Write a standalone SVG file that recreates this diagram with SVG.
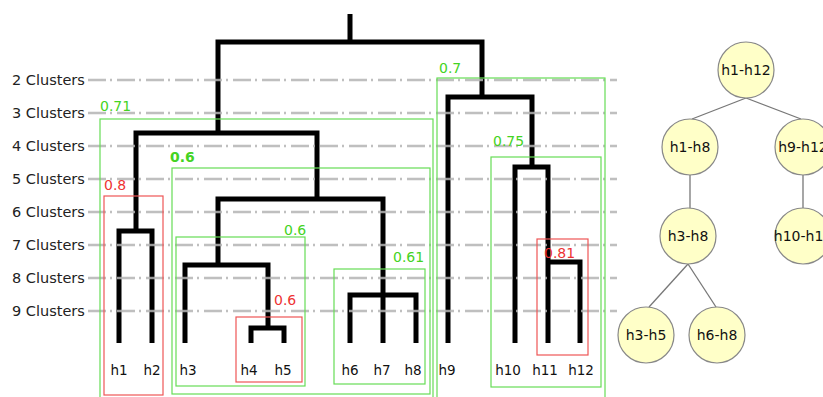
<svg xmlns="http://www.w3.org/2000/svg" width="823" height="397" viewBox="0 0 823 397">
<style>
.lbl{font-family:"DejaVu Sans",sans-serif;font-size:14.5px;fill:#222}
.leaf{font-family:"DejaVu Sans",sans-serif;font-size:13.5px;fill:#111;text-anchor:middle}
.g{font-family:"DejaVu Sans",sans-serif;font-size:14px;fill:#44d322}
.r{font-family:"DejaVu Sans",sans-serif;font-size:14px;fill:#ee3333}
.den{fill:none;stroke:#000;stroke-width:5;stroke-linejoin:miter}
.dash{stroke:#b4b4b4;stroke-width:2.5;stroke-dasharray:18 4 2 5;opacity:0.85}
.gb{fill:none;stroke:#66dd55;stroke-width:1.2}
.rb{fill:none;stroke:#ee5555;stroke-width:1.2}
.node circle{fill:#ffffc8;stroke:#888;stroke-width:1.2}
.node text{font-family:"DejaVu Sans",sans-serif;font-size:14px;fill:#111;text-anchor:middle}
.edge{stroke:#777;stroke-width:1.3}
</style>
<rect width="823" height="397" fill="#fff"/>
<g id="connectors">
<path class="den" d="M350 14V42M218 133V42H482V97"/>
<path class="den" d="M136 231V133H317V199"/>
<path class="den" d="M119 343V231H152V343"/>
<path class="den" d="M218 265V199H383V295"/>
<path class="den" d="M185 343V265H268V328"/>
<path class="den" d="M251 343V328H284V343"/>
<path class="den" d="M350 343V295H416V343M383 295V343"/>
<path class="den" d="M448 343V97H532V167"/>
<path class="den" d="M515 343V167H548V343"/>
<path class="den" d="M548 262H580V343"/>
<line class="edge" x1="746" y1="98" x2="692" y2="119"/>
<line class="edge" x1="746" y1="98" x2="801" y2="119"/>
<line class="edge" x1="690" y1="175" x2="690" y2="208"/>
<line class="edge" x1="803" y1="175" x2="803" y2="208"/>
<line class="edge" x1="688" y1="264" x2="649" y2="307"/>
<line class="edge" x1="688" y1="264" x2="716" y2="307"/>
</g>
<g id="levels">
<line class="dash" x1="88" y1="80" x2="617" y2="80"/>
<line class="dash" x1="88" y1="113" x2="617" y2="113"/>
<line class="dash" x1="88" y1="146" x2="617" y2="146"/>
<line class="dash" x1="88" y1="179" x2="617" y2="179"/>
<line class="dash" x1="88" y1="212" x2="617" y2="212"/>
<line class="dash" x1="88" y1="245" x2="617" y2="245"/>
<line class="dash" x1="88" y1="278" x2="617" y2="278"/>
<line class="dash" x1="88" y1="311" x2="617" y2="311"/>
<text class="lbl" x="12" y="85">2 Clusters</text>
<text class="lbl" x="12" y="118">3 Clusters</text>
<text class="lbl" x="12" y="151">4 Clusters</text>
<text class="lbl" x="12" y="184">5 Clusters</text>
<text class="lbl" x="12" y="217">6 Clusters</text>
<text class="lbl" x="12" y="250">7 Clusters</text>
<text class="lbl" x="12" y="283">8 Clusters</text>
<text class="lbl" x="12" y="316">9 Clusters</text>
</g>
<g id="leaves">
<text class="leaf" x="119" y="375">h1</text>
<text class="leaf" x="152" y="375">h2</text>
<text class="leaf" x="188" y="375">h3</text>
<text class="leaf" x="249" y="375">h4</text>
<text class="leaf" x="283" y="375">h5</text>
<text class="leaf" x="350" y="375">h6</text>
<text class="leaf" x="382" y="375">h7</text>
<text class="leaf" x="413" y="375">h8</text>
<text class="leaf" x="447" y="375">h9</text>
<text class="leaf" x="508" y="375">h10</text>
<text class="leaf" x="545" y="375">h11</text>
<text class="leaf" x="581" y="375">h12</text>
</g>
<g id="box-071"><rect class="gb" x="100" y="119" width="333" height="285"/><text class="g" x="100" y="111">0.71</text></g>
<g id="box-07"><rect class="gb" x="437" y="78" width="168" height="326"/><text class="g" x="439" y="73">0.7</text></g>
<g id="box-06a"><rect class="gb" x="172" y="168" width="258" height="226"/><text class="g" x="170" y="162" font-weight="bold">0.6</text></g>
<g id="box-08"><rect class="rb" x="104" y="196" width="59" height="199"/><text class="r" x="104" y="190">0.8</text></g>
<g id="box-06b"><rect class="gb" x="176" y="237" width="129" height="149"/><text class="g" x="284" y="235">0.6</text></g>
<g id="box-06c"><rect class="rb" x="236" y="317" width="66" height="65"/><text class="r" x="274" y="305">0.6</text></g>
<g id="box-061"><rect class="gb" x="334" y="269" width="91" height="115"/><text class="g" x="393" y="262">0.61</text></g>
<g id="box-075"><rect class="gb" x="491" y="157" width="110" height="230"/><text class="g" x="493" y="146">0.75</text></g>
<g id="box-081"><rect class="rb" x="537" y="239" width="51" height="116"/><text class="r" x="544" y="258">0.81</text></g>
<g id="n-h1-h12" class="node"><circle cx="746" cy="70" r="28"/><text x="746" y="75">h1-h12</text></g>
<g id="n-h1-h8" class="node"><circle cx="690" cy="147" r="28"/><text x="690" y="152">h1-h8</text></g>
<g id="n-h9-h12" class="node"><circle cx="803" cy="147" r="28"/><text x="803" y="152">h9-h12</text></g>
<g id="n-h3-h8" class="node"><circle cx="688" cy="236" r="28"/><text x="688" y="241">h3-h8</text></g>
<g id="n-h10-h12" class="node"><circle cx="803" cy="236" r="28"/><text x="803" y="241">h10-h12</text></g>
<g id="n-h3-h5" class="node"><circle cx="646" cy="335" r="28"/><text x="646" y="340">h3-h5</text></g>
<g id="n-h6-h8" class="node"><circle cx="717" cy="335" r="28"/><text x="717" y="340">h6-h8</text></g>
</svg>
